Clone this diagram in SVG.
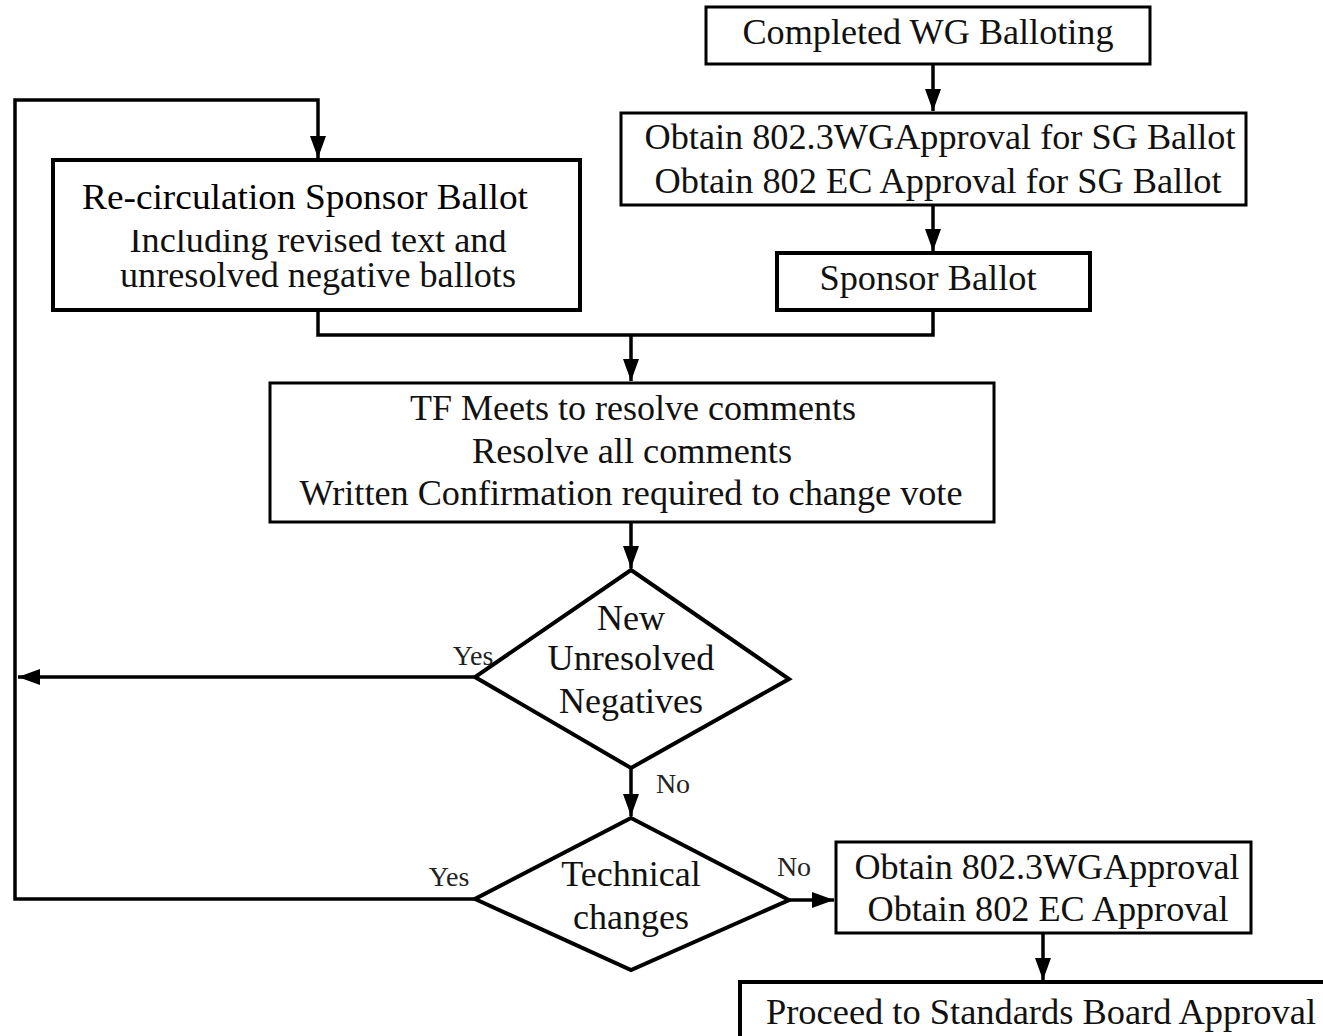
<svg xmlns="http://www.w3.org/2000/svg" width="1323" height="1036" viewBox="0 0 1323 1036">
<style>
.box{fill:#fff;stroke:#000;stroke-width:3}
.dia{fill:#fff;stroke:#000;stroke-width:4;stroke-linejoin:miter}
.t{font-family:"Liberation Serif","Times New Roman",serif;font-size:36px;fill:#111;text-anchor:middle}
.lbl{font-family:"Liberation Serif","Times New Roman",serif;font-size:28px;fill:#222;text-anchor:middle}
.c{fill:none;stroke:#000;stroke-width:3.5}
</style>
<defs>
<marker id="ah" markerUnits="userSpaceOnUse" markerWidth="24" markerHeight="16" refX="22" refY="8" orient="auto">
<path d="M0,0 L22,8 L0,16 z" fill="#000"/>
</marker>
<clipPath id="clipInc"><rect x="53" y="230" width="527" height="80"/></clipPath>
</defs>
<rect width="1323" height="1036" fill="#fff"/>

<g id="connectors">
<line class="c" x1="933" y1="64" x2="933" y2="111" marker-end="url(#ah)"/>
<line class="c" x1="933" y1="205" x2="933" y2="251" marker-end="url(#ah)"/>
<polyline class="c" points="933,310 933,335 318,335 318,310"/>
<line class="c" x1="631" y1="335" x2="631" y2="381" marker-end="url(#ah)"/>
<line class="c" x1="631" y1="522" x2="631" y2="568" marker-end="url(#ah)"/>
<line class="c" x1="475" y1="677" x2="18" y2="677" marker-end="url(#ah)"/>
<line class="c" x1="631" y1="768" x2="631" y2="816" marker-end="url(#ah)"/>
<polyline class="c" points="475,899 15,899 15,100 318,100 318,158" marker-end="url(#ah)"/>
<line class="c" x1="789" y1="900" x2="834" y2="900" marker-end="url(#ah)"/>
<line class="c" x1="1043" y1="933" x2="1043" y2="980" marker-end="url(#ah)"/>
<text class="lbl" x="473" y="665">Yes</text>
<text class="lbl" x="673" y="793">No</text>
<text class="lbl" x="449" y="886">Yes</text>
<text class="lbl" x="794" y="876">No</text>
</g>

<g id="n_completed">
<rect class="box" x="706" y="7" width="444" height="57"/>
<text class="t" x="928" y="44" textLength="371" lengthAdjust="spacingAndGlyphs">Completed WG Balloting</text>
</g>

<g id="n_obtain_sg">
<rect class="box" x="621" y="113" width="625" height="92"/>
<text class="t" x="940" y="149" textLength="591" lengthAdjust="spacingAndGlyphs">Obtain 802.3WGApproval for SG Ballot</text>
<text class="t" x="938" y="193" textLength="567" lengthAdjust="spacingAndGlyphs">Obtain 802 EC Approval for SG Ballot</text>
</g>

<g id="n_sponsor">
<rect class="box" x="777" y="253" width="313" height="57" style="stroke-width:4"/>
<text class="t" x="928" y="290" textLength="217" lengthAdjust="spacingAndGlyphs">Sponsor Ballot</text>
</g>

<g id="n_recirc">
<rect class="box" x="53" y="160" width="527" height="150" style="stroke-width:4"/>
<text class="t" x="305" y="209" textLength="446" lengthAdjust="spacingAndGlyphs" style="fill:#000">Re-circulation Sponsor Ballot</text>
<text class="t" x="318" y="252" textLength="377" lengthAdjust="spacingAndGlyphs" clip-path="url(#clipInc)">Including revised text and</text>
<text class="t" x="318" y="287" textLength="396" lengthAdjust="spacingAndGlyphs">unresolved negative ballots</text>
</g>

<g id="n_tf">
<rect class="box" x="270" y="383" width="724" height="139"/>
<text class="t" x="633" y="420" textLength="446" lengthAdjust="spacingAndGlyphs">TF Meets to resolve comments</text>
<text class="t" x="632" y="463" textLength="320" lengthAdjust="spacingAndGlyphs">Resolve all comments</text>
<text class="t" x="631" y="505" textLength="663" lengthAdjust="spacingAndGlyphs">Written Confirmation required to change vote</text>
</g>

<g id="n_newneg">
<polygon class="dia" points="631,570 789,679 631,768 475,677"/>
<text class="t" x="631" y="630">New</text>
<text class="t" x="631" y="670" textLength="167" lengthAdjust="spacingAndGlyphs">Unresolved</text>
<text class="t" x="631" y="713">Negatives</text>
</g>

<g id="n_tech">
<polygon class="dia" points="631,818 789,900 631,970 475,899"/>
<text class="t" x="631" y="886">Technical</text>
<text class="t" x="631" y="929">changes</text>
</g>

<g id="n_obtain_final">
<rect class="box" x="836" y="842" width="415" height="91"/>
<text class="t" x="1047" y="879" textLength="385" lengthAdjust="spacingAndGlyphs">Obtain 802.3WGApproval</text>
<text class="t" x="1048" y="921" textLength="361" lengthAdjust="spacingAndGlyphs">Obtain 802 EC Approval</text>
</g>

<g id="n_proceed">
<rect class="box" x="740" y="982" width="620" height="80" style="stroke-width:4"/>
<text class="t" x="1041" y="1024" textLength="550" lengthAdjust="spacingAndGlyphs">Proceed to Standards Board Approval</text>
</g>
</svg>
